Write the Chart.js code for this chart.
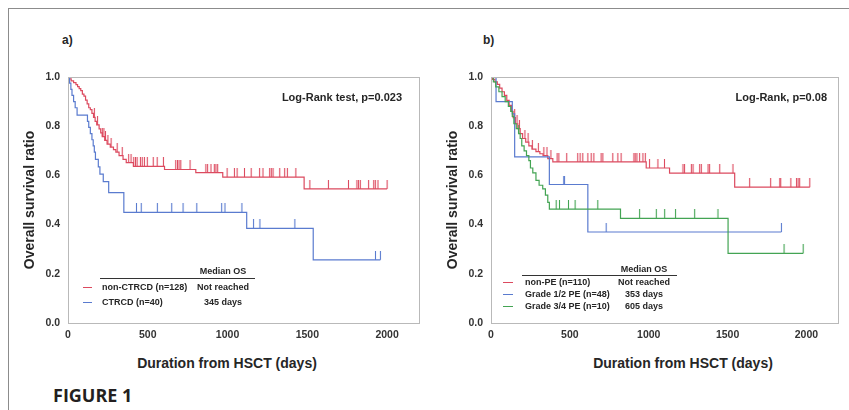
<!DOCTYPE html>
<html>
<head>
<meta charset="utf-8">
<script src="https://cdn.jsdelivr.net/npm/chart.js@4.4.0/dist/chart.umd.min.js"></script>
<style>
  body { margin: 0; width: 849px; height: 410px; background: #fff; position: relative; overflow: hidden;
         font-family: "Liberation Sans", Arial, sans-serif; }
  canvas { position: absolute; }
  .hline { position: absolute; height: 0; border-top: 1px solid #8c8c8c; }
  .vline { position: absolute; width: 0; border-left: 1px solid #8c8c8c; }
  .txt { position: absolute; font-weight: bold; color: #262626; white-space: nowrap; line-height: 1; }
</style>
</head>
<body>
<div class="hline" style="left:8px; top:8px; width:841px;"></div>
<div class="vline" style="left:8px; top:8px; height:402px;"></div>
<canvas id="chartA" width="420" height="283" style="left:10px; top:60px;"></canvas>
<canvas id="chartB" width="416" height="283" style="left:433px; top:60px;"></canvas>
<script>
// axis ticks
const xTicks = [0, 500, 1000, 1500, 2000];
const yTicks = [0, 0.2, 0.4, 0.6, 0.8, 1.0];

// a) non-CTRCD (n=128): event times / survival after event / censored times
const nonCtrcdTime = [0, 8, 20, 35, 50, 60, 70, 80, 90, 100, 110, 120, 130, 140, 150, 160, 170, 180, 195, 205, 215, 230, 245, 265, 285, 300, 320, 345, 365, 410, 605, 801, 970, 1480];
const nonCtrcdSurv = [1, 0.992, 0.984, 0.977, 0.969, 0.961, 0.953, 0.945, 0.930, 0.922, 0.906, 0.891, 0.875, 0.867, 0.852, 0.836, 0.820, 0.805, 0.789, 0.773, 0.758, 0.742, 0.727, 0.715, 0.705, 0.695, 0.680, 0.665, 0.652, 0.637, 0.624, 0.611, 0.593, 0.545];
const nonCtrcdCensor = [165, 185, 215, 225, 235, 250, 270, 308, 340, 380, 395, 412, 423, 433, 454, 465, 479, 497, 534, 559, 598, 675, 686, 696, 707, 765, 864, 875, 896, 917, 927, 938, 997, 1043, 1060, 1106, 1148, 1201, 1222, 1264, 1274, 1285, 1327, 1358, 1375, 1428, 1516, 1632, 1758, 1811, 1821, 1832, 1884, 1916, 1926, 1943, 2000];

// a) CTRCD (n=40)
const ctrcdTime = [0, 10, 18, 25, 35, 45, 57, 122, 130, 140, 150, 158, 165, 172, 190, 200, 221, 255, 350, 1120, 1537];
const ctrcdSurv = [1, 0.975, 0.95, 0.925, 0.9, 0.875, 0.845, 0.82, 0.795, 0.77, 0.745, 0.72, 0.695, 0.665, 0.635, 0.605, 0.575, 0.53, 0.45, 0.385, 0.257];
const ctrcdCensor = [429, 459, 560, 650, 721, 807, 963, 984, 1090, 1163, 1203, 1422, 1927, 1958];

// b) non-PE (n=110)
const nonPeTime = [0, 10, 25, 40, 55, 70, 85, 100, 115, 130, 140, 155, 170, 185, 200, 220, 240, 260, 285, 310, 330, 360, 392, 984, 1132, 1545];
const nonPeSurv = [1, 0.99, 0.98, 0.97, 0.955, 0.94, 0.925, 0.905, 0.885, 0.86, 0.835, 0.81, 0.79, 0.77, 0.75, 0.735, 0.72, 0.707, 0.697, 0.688, 0.68, 0.668, 0.655, 0.63, 0.609, 0.552];
const nonPeCensor = [150, 165, 180, 215, 235, 262, 300, 335, 355, 380, 419, 430, 480, 550, 565, 582, 614, 635, 652, 698, 709, 772, 804, 825, 906, 914, 925, 942, 963, 978, 1005, 1058, 1100, 1217, 1227, 1270, 1281, 1323, 1333, 1376, 1386, 1450, 1534, 1640, 1773, 1831, 1837, 1901, 1937, 1947, 1957, 2021];

// b) Grade 1/2 PE
const grade12Time = [0, 32, 135, 150, 370, 614];
const grade12Surv = [1, 0.9, 0.85, 0.675, 0.563, 0.37];
const grade12Censor = [461, 466, 730, 1841];

// b) Grade 3/4 PE
const grade34Time = [0, 15, 30, 50, 70, 90, 110, 125, 135, 145, 160, 175, 185, 195, 210, 225, 240, 250, 265, 285, 305, 328, 345, 360, 370, 821, 1503];
const grade34Surv = [1, 0.98, 0.96, 0.94, 0.92, 0.90, 0.88, 0.86, 0.84, 0.81, 0.79, 0.77, 0.75, 0.72, 0.70, 0.68, 0.66, 0.63, 0.61, 0.58, 0.56, 0.545, 0.52, 0.49, 0.463, 0.425, 0.283];
const grade34Censor = [176, 413, 434, 491, 533, 677, 942, 1048, 1101, 1170, 1291, 1439, 1858, 1979];

const RED = "#dc4a5f";
const BLUE = "#5a7bcf";
const GREEN = "#43a453";

Chart.defaults.font.family = '"Liberation Sans", Arial, sans-serif';

function survAt(times, surv, t) {
  var s = surv[0];
  for (var i = 0; i < times.length; i++) {
    if (times[i] <= t) s = surv[i];
  }
  return s;
}

// censor tick: short vertical line sitting on top of the curve
function tickMark(color) {
  var c = document.createElement("canvas");
  c.width = 3;
  c.height = 18;
  var g = c.getContext("2d");
  g.strokeStyle = color;
  g.lineWidth = 1.1;
  g.beginPath();
  g.moveTo(1.5, 0);
  g.lineTo(1.5, 9);
  g.stroke();
  return c;
}

function curveSets(times, surv, censor, color) {
  var pts = times.map((t, i) => ({ x: t, y: surv[i] }));
  var last = censor[censor.length - 1];
  if (last > times[times.length - 1]) pts.push({ x: last, y: surv[surv.length - 1] });
  return [
    {
      type: "line", data: pts, borderColor: color, borderWidth: 1.2,
      stepped: "before", pointRadius: 0, fill: false, tension: 0,
    },
    {
      type: "scatter", data: censor.map((t) => ({ x: t, y: survAt(times, surv, t) })),
      pointStyle: tickMark(color), borderColor: color, backgroundColor: color,
    },
  ];
}

const frame = {
  id: "frame",
  afterDraw(chart) {
    var a = chart.chartArea, ctx = chart.ctx;
    ctx.save();
    ctx.strokeStyle = "#b9b9b9";
    ctx.lineWidth = 1;
    ctx.strokeRect(Math.round(a.left) + 0.5, Math.round(a.top) + 0.5, Math.round(a.right - a.left), Math.round(a.bottom - a.top));
    ctx.restore();
  },
};

function makePanel(id, datasets, rightPad) {
  return new Chart(document.getElementById(id), {
    data: { datasets: datasets },
    plugins: [frame],
    options: {
      responsive: false, animation: false, events: [],
      layout: { padding: { top: 17, right: rightPad, left: 0, bottom: 0 } },
      plugins: { legend: { display: false }, tooltip: { enabled: false } },
      scales: {
        x: {
          type: "linear", min: 0, max: 2200,
          grid: { display: false, drawTicks: false }, border: { display: false },
          afterBuildTicks: (s) => { s.ticks = xTicks.map((v) => ({ value: v })); },
          afterFit: (s) => { s.height = 20; },
          ticks: {
            padding: 6, color: "#333", font: { size: 10.5, weight: "bold" },
            maxRotation: 0, autoSkip: false, callback: (v) => String(v),
          },
        },
        y: {
          type: "linear", min: 0, max: 1,
          grid: { display: false, drawTicks: false }, border: { display: false },
          afterBuildTicks: (s) => { s.ticks = yTicks.map((v) => ({ value: v })); },
          afterFit: (s) => { s.width = 58; },
          ticks: { padding: 8, color: "#333", font: { size: 10.5, weight: "bold" }, callback: (v) => v.toFixed(1) },
          title: {
            display: true, text: "Overall survival ratio", color: "#262626",
            font: { size: 14, weight: "bold" }, padding: { top: 12, bottom: 0 },
          },
        },
      },
    },
  });
}

makePanel("chartA", [].concat(
  curveSets(ctrcdTime, ctrcdSurv, ctrcdCensor, BLUE),
  curveSets(nonCtrcdTime, nonCtrcdSurv, nonCtrcdCensor, RED)
), 11);

makePanel("chartB", [].concat(
  curveSets(grade34Time, grade34Surv, grade34Censor, GREEN),
  curveSets(grade12Time, grade12Surv, grade12Censor, BLUE),
  curveSets(nonPeTime, nonPeSurv, nonPeCensor, RED)
), 11);

// text labels
function place(text, x, y, size, align, extra) {
  var d = document.createElement("div");
  d.className = "txt";
  d.textContent = text;
  d.style.left = x + "px";
  d.style.top = y + "px";
  d.style.fontSize = size + "px";
  var tx = align === "center" ? "-50%" : align === "right" ? "-100%" : "0";
  d.style.transform = "translate(" + tx + ", -50%)";
  if (extra) Object.assign(d.style, extra);
  document.body.appendChild(d);
  return d;
}

function line(x1, x2, y, color, width) {
  var d = document.createElement("div");
  d.style.position = "absolute";
  d.style.left = x1 + "px";
  d.style.top = y + "px";
  d.style.width = x2 - x1 + "px";
  d.style.height = "0";
  d.style.borderTop = (width || 1) + "px solid " + color;
  document.body.appendChild(d);
}

place("a)", 62, 40, 12, "left");
place("b)", 483, 40, 12, "left");
place("Log-Rank test, p=0.023", 402, 97, 11, "right");
place("Log-Rank, p=0.08", 827, 97, 11, "right");
place("Duration from HSCT (days)", 227, 363, 14, "center");
place("Duration from HSCT (days)", 683, 363, 14, "center");

// legend a
place("Median OS", 223, 271, 9, "center");
line(100, 255, 278, "#333", 1);
line(83, 92, 287, RED, 1.5);
place("non-CTRCD (n=128)", 102, 287, 9, "left");
place("Not reached", 223, 287, 9, "center");
line(83, 92, 302, BLUE, 1.5);
place("CTRCD (n=40)", 102, 302, 9, "left");
place("345 days", 223, 302, 9, "center");

// legend b
place("Median OS", 644, 269, 9, "center");
line(522, 677, 275, "#333", 1);
line(503, 513, 282, RED, 1.5);
place("non-PE (n=110)", 525, 282, 9, "left");
place("Not reached", 644, 282, 9, "center");
line(503, 513, 294, BLUE, 1.5);
place("Grade 1/2 PE (n=48)", 525, 294, 9, "left");
place("353 days", 644, 294, 9, "center");
line(503, 513, 306, GREEN, 1.5);
place("Grade 3/4 PE (n=10)", 525, 306, 9, "left");
place("605 days", 644, 306, 9, "center");

place("FIGURE 1", 53, 395, 18, "left", { fontFamily: '"Open Sans", sans-serif', fontWeight: "700", color: "#231f20" });
</script>
</body>
</html>
